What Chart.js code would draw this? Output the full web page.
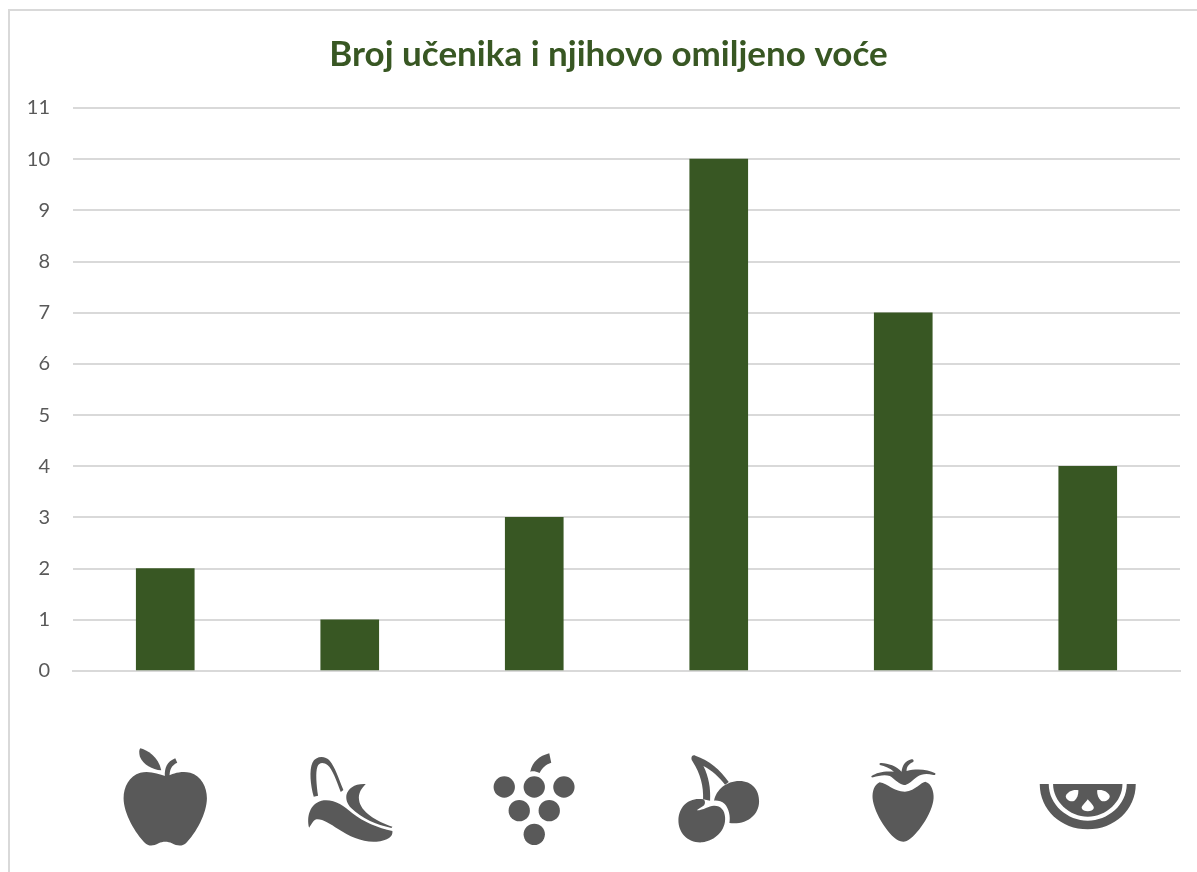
<!DOCTYPE html>
<html>
<head>
<meta charset="utf-8">
<title>Broj učenika i njihovo omiljeno voće</title>
<script src="https://cdn.jsdelivr.net/npm/chart.js@4"></script>
<style>
  html, body { margin: 0; padding: 0; background: #fff; overflow: hidden; }
  #wrap { position: absolute; left: 0; top: 0; width: 1197px; height: 872px; overflow: hidden; }
  #frame { position: absolute; left: 8px; top: 9px; width: 1300px; height: 900px; border: 2px solid #d9d9d9; box-sizing: border-box; }
  canvas { position: absolute; left: 0; top: 0; }
</style>
</head>
<body>
<div id="wrap">
  <div id="frame"></div>
  <canvas id="chart" width="1197" height="872"></canvas>
</div>
<script>
const chartTitle = "Broj učenika i njihovo omiljeno voće";
const categories = ["Jabuka", "Banana", "Grožđe", "Trešnja", "Jagoda", "Lubenica"];
const studentCounts = [2, 1, 3, 10, 7, 4];
const yMin = 0;
const yMax = 11;

// fruit pictures under the axis, in 1/3 px units around the category centre, y from iconTop
const iconTop = 730;
const fruitPaths = [
  [
    "M0 138 C-20 132 -45 122 -75 128 C-108 138 -125 170 -125 205 C-125 250 -90 310 -60 340 C-48 350 -35 348 -20 340 C-8 334 8 334 20 340 C35 348 50 350 62 340 C92 310 125 250 125 205 C125 170 108 138 75 128 C45 122 20 132 8 138 Z",
    "M-1 140 C-3 115 5 95 30 85 L36 98 C18 106 13 120 13 140 Z",
    "M-75 55 C-55 60 -20 80 -12 121 C-40 118 -65 105 -76 80 C-79 70 -79 60 -75 55 Z"
  ],
  [
    "M-108 200 C-118 165 -122 120 -112 98 C-102 78 -75 76 -60 92 C-45 110 -33 145 -19 180 L-27 186 C-40 152 -52 118 -66 106 C-78 96 -92 96 -97 110 C-103 125 -100 165 -95 197 Z",
    "M-122 293 C-130 260 -120 222 -85 212 C-50 205 -20 225 8 250 C40 275 85 295 128 303 C130 320 115 332 80 335 C40 338 0 320 -35 297 C-60 280 -85 265 -100 268 C-110 270 -115 285 -122 293 Z",
    "M-10 195 C-5 175 15 160 48 162 C35 175 25 190 28 210 C32 245 80 275 128 290 L125 294 C80 285 35 265 5 235 C-8 222 -12 208 -10 195 Z"
  ],
  [
    "M-12 125 C-5 95 15 78 45 70 L51 98 C35 103 25 112 16 129 C5 124 -3 123 -12 125 Z",
    "M-122 171 a32 32 0 1 0 64 0 a32 32 0 1 0 -64 0 Z",
    "M-32 171 a32 32 0 1 0 64 0 a32 32 0 1 0 -64 0 Z",
    "M57 171 a32 32 0 1 0 64 0 a32 32 0 1 0 -64 0 Z",
    "M-77 242 a32 32 0 1 0 64 0 a32 32 0 1 0 -64 0 Z",
    "M13 242 a32 32 0 1 0 64 0 a32 32 0 1 0 -64 0 Z",
    "M-32 313 a32 32 0 1 0 64 0 a32 32 0 1 0 -64 0 Z"
  ],
  [
    "M-82 85 C-82 77 -76 74 -70 77 C-30 90 5 120 30 156 L19 164 C0 140 -20 122 -46 108 C-30 140 -24 175 -26 212 L-47 208 C-45 170 -55 130 -78 95 C-80 92 -82 90 -82 85 Z",
    "M-46 208 C-90 200 -120 230 -121 270 C-122 310 -90 340 -50 337 C-10 333 22 300 19 262 C18 240 5 226 -15 227 C-30 228 -45 240 -66 241 C-60 235 -50 232 -44 226 C-40 220 -40 212 -46 208 Z",
    "M-14 212 C-8 180 22 153 62 153 C100 153 122 180 121 215 C120 255 85 285 32 279 C36 260 30 235 18 222 C8 213 -4 211 -14 212 Z"
  ],
  [
    "M-71 157 C-88 165 -93 185 -92 205 C-88 250 -40 325 -8 334 C-2 336 4 336 10 333 C40 320 88 250 91 205 C92 185 85 160 66 155 C50 158 40 180 5 185 C-30 184 -45 162 -71 157 Z",
    "M-95 138 C-80 127 -55 122 -28 125 C-40 115 -55 108 -70 105 C-73 100 -70 98 -66 99 C-45 100 -20 108 -5 125 C-3 108 5 92 25 88 C32 88 33 95 28 97 C15 103 10 112 10 123 C40 115 75 118 96 130 C98 134 95 136 90 135 C70 130 55 132 42 140 C25 152 15 165 2 165 C-12 163 -25 148 -40 138 C-55 133 -75 137 -90 142 C-95 143 -97 141 -95 138 Z"
  ],
  [
    "M-144 162 L-117 162 C-117 225 -60 272 0 272 C60 272 117 225 117 162 L144 162 C144 240 80 298 0 298 C-80 298 -144 240 -144 162 Z",
    "M-104 162 L104 162 C104 215 55 260 0 260 C-55 260 -104 215 -104 162 Z"
  ]
];

// white seeds on the melon (last category)
const melonSeeds = [
  "M-28 181 C-45 178 -60 185 -66 198 C-66 210 -50 218 -40 212 C-32 206 -28 195 -28 181 Z",
  "M28 181 C45 178 60 185 66 198 C66 210 50 218 40 212 C32 206 28 195 28 181 Z",
  "M0 208 C10 220 20 228 18 235 C15 247 -15 247 -18 235 C-20 228 -8 220 0 208 Z"
];

const fruitIconPlugin = {
  id: "fruitIcons",
  // tick labels get clipped to the axis box, so let the box reach the canvas edge
  afterLayout(chart) {
    chart.scales.y.left = 0;
  },
  afterDraw(chart) {
    const { ctx, scales } = chart;
    categories.forEach((name, i) => {
      ctx.save();
      ctx.translate(scales.x.getPixelForValue(i), iconTop);
      ctx.scale(1 / 3, 1 / 3);
      ctx.fillStyle = "#595959";
      fruitPaths[i].forEach(d => ctx.fill(new Path2D(d)));
      if (i === categories.length - 1) {
        ctx.fillStyle = "#fff";
        melonSeeds.forEach(d => ctx.fill(new Path2D(d)));
      }
      ctx.restore();
    });
  }
};

new Chart(document.getElementById("chart"), {
  type: "bar",
  plugins: [fruitIconPlugin],
  data: {
    labels: categories,
    datasets: [
      {
        label: "Broj učenika",
        data: studentCounts,
        backgroundColor: "#385723",
        barThickness: 58,
      },
    ],
  },
  options: {
    responsive: false,
    animation: false,
    // left padding moves the title's centre to where the reference has it
    layout: { padding: { left: 37, right: 17, top: 0, bottom: 193 } },
    plugins: {
      legend: { display: false },
      tooltip: { enabled: false },
      title: {
        display: true,
        text: chartTitle,
        color: "#385723",
        font: { family: "Lato", size: 35, weight: "bold" },
        padding: { top: 34, bottom: 32 },
      },
    },
    scales: {
      x: {
        ticks: { display: false },
        grid: { display: false },
        border: { display: true, color: "#d9d9d9", width: 2 },
      },
      y: {
        min: yMin,
        max: yMax,
        afterFit(scale) { scale.width = 36; },
        ticks: {
          stepSize: 1,
          color: "#595959",
          padding: 23,
          font: { family: "Lato", size: 20 },
        },
        grid: { color: "#d9d9d9", lineWidth: 2, drawTicks: false },
        border: { display: false },
      },
    },
  },
});
</script>
</body>
</html>
